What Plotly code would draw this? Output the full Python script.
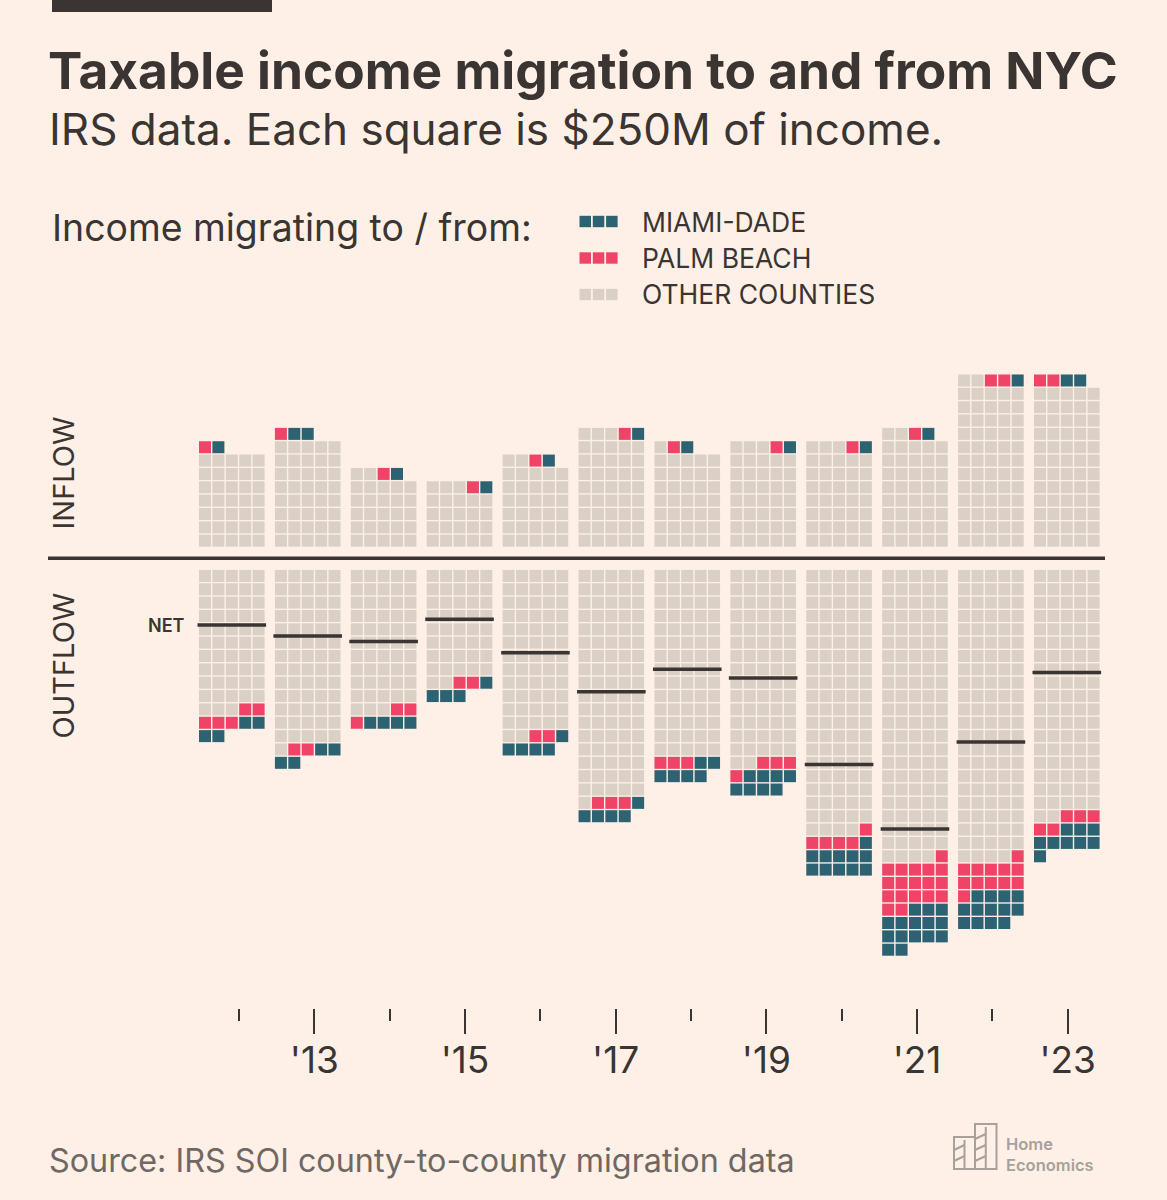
import plotly.graph_objects as go

# ---------------- data (squares; each square = $250M) ----------------
years = list(range(2012, 2024))
tick_labels = ["'12", "'13", "'14", "'15", "'16", "'17", "'18", "'19", "'20", "'21", "'22", "'23"]

in_other = [35, 40, 27, 23, 32, 43, 36, 38, 38, 42, 62, 60]
in_palm = [1, 1, 1, 1, 1, 1, 1, 1, 1, 1, 2, 2]
in_miami = [1, 2, 1, 1, 1, 1, 1, 1, 1, 1, 1, 2]

out_other = [53, 66, 53, 42, 62, 86, 70, 72, 99, 109, 109, 92]
out_palm = [5, 2, 3, 2, 2, 3, 3, 4, 5, 18, 12, 5]
out_miami = [4, 4, 4, 4, 5, 5, 6, 8, 11, 15, 13, 9]

# net outflow in $B
net_billions = [6.25, 7.28, 7.8, 5.7, 8.84, 12.5, 10.4, 11.2, 19.3, 25.35, 17.2, 10.7]

legend_names = ["MIAMI-DADE", "PALM BEACH", "OTHER COUNTIES"]

# ---------------- style ----------------
W, H = 1167, 1200
BG = "#FEF0E6"
DARK = "#3A3532"
TEAL = "#2D6272"
PINK = "#EF4468"
GRAY = "#DAD0C6"
MUTED = "#6F6863"
LOGO = "#A8A09A"
FONT = "Inter"

PX_PER_YEAR = 75.909
X0_PX = 231.8          # pixel of first column centre
ROW_PX = 13.35         # vertical pitch
COL_PX = 13.4          # horizontal pitch
Y0_PX = 558.3          # centre line
GAP = 1.32             # first row centre offset (rows)
SQ = 12
PER_ROW = 5
SQ_VALUE_B = 0.25

dx = COL_PX / PX_PER_YEAR


def px(x):
    return x / W


def py(y):
    return 1 - y / H


def waffle(year, counts, direction):
    """Return dict colour->(xs, ys) filling rows of 5 from the centre line."""
    out = {}
    idx = 0
    for key, n in counts:
        xs, ys = [], []
        for _ in range(n):
            r, c = divmod(idx, PER_ROW)
            xs.append(year + (c - 2) * dx)
            ys.append(direction * (GAP + r))
            idx += 1
        out[key] = (xs, ys)
    return out


pts = {k: ([], []) for k in ("other", "palm", "miami")}
for i, yr in enumerate(years):
    for direction, cnts in (
        (1, [("other", in_other[i]), ("palm", in_palm[i]), ("miami", in_miami[i])]),
        (-1, [("other", out_other[i]), ("palm", out_palm[i]), ("miami", out_miami[i])]),
    ):
        res = waffle(yr, cnts, direction)
        for k, (xs, ys) in res.items():
            pts[k][0].extend(xs)
            pts[k][1].extend(ys)

fig = go.Figure()
for k, col in (("other", GRAY), ("palm", PINK), ("miami", TEAL)):
    fig.add_trace(go.Scatter(
        x=pts[k][0], y=pts[k][1], mode="markers",
        marker=dict(symbol="square", size=SQ, color=col, line=dict(width=0)),
        hoverinfo="skip", showlegend=False))

# net lines
half = (2 * dx) + (SQ / 2 + 1.5) / PX_PER_YEAR
nx, ny = [], []
for yr, nb in zip(years, net_billions):
    yv = -nb / (SQ_VALUE_B * PER_ROW)
    nx += [yr - half, yr + half, None]
    ny += [yv, yv, None]
fig.add_trace(go.Scatter(x=nx, y=ny, mode="lines",
                         line=dict(color=DARK, width=3.5),
                         hoverinfo="skip", showlegend=False))

# dummy trace for tick axis
fig.add_trace(go.Scatter(x=years, y=[None] * len(years), xaxis="x2", yaxis="y",
                         mode="markers", hoverinfo="skip", showlegend=False))

x_lo = years[0] - X0_PX / PX_PER_YEAR
x_hi = years[0] + (W - X0_PX) / PX_PER_YEAR
y_hi = Y0_PX / ROW_PX
y_lo = -(H - Y0_PX) / ROW_PX

TICK_PX_PER_YEAR = 75.34
T13_PX = 314.3
x2_lo = 2013 - T13_PX / TICK_PX_PER_YEAR
x2_hi = 2013 + (W - T13_PX) / TICK_PX_PER_YEAR

major = [y for y in years if y % 2 == 1]
minor = [y for y in years if y % 2 == 0]

fig.update_layout(
    width=W, height=H,
    margin=dict(l=0, r=0, t=0, b=0),
    paper_bgcolor=BG, plot_bgcolor=BG,
    font=dict(family=FONT, color=DARK),
    xaxis=dict(range=[x_lo, x_hi], visible=False, domain=[0, 1], fixedrange=True),
    yaxis=dict(range=[y_lo, y_hi], visible=False, domain=[0, 1], fixedrange=True),
    xaxis2=dict(
        overlaying="x", anchor="free", position=py(1008), side="bottom",
        range=[x2_lo, x2_hi], showgrid=False, zeroline=False, showline=False,
        tickmode="array", tickvals=major,
        ticktext=[tick_labels[years.index(y)] for y in major],
        ticks="outside", ticklen=25, tickwidth=2, tickcolor=DARK,
        ticklabelstandoff=-5,
        tickfont=dict(family=FONT, size=37, color=DARK),
        minor=dict(tickmode="array", tickvals=minor, ticks="outside",
                   ticklen=12, tickwidth=2, tickcolor=DARK, showgrid=False),
    ),
    showlegend=False,
)

shapes = []
# top bar
shapes.append(dict(type="rect", xref="paper", yref="paper",
                   x0=px(52), x1=px(272), y0=py(12), y1=py(-5),
                   fillcolor=DARK, line=dict(width=0)))
# centre divider
shapes.append(dict(type="line", xref="paper", yref="y",
                   x0=px(48), x1=px(1105), y0=0, y1=0,
                   line=dict(color=DARK, width=3.5)))
# legend swatches
sw_rows = [(221.5, TEAL), (258, PINK), (294.5, GRAY)]
for cy, col in sw_rows:
    for j in range(3):
        x0 = 579.5 + j * 13.3
        shapes.append(dict(type="rect", xref="paper", yref="paper",
                           x0=px(x0), x1=px(x0 + 11.5), y0=py(cy - 5.7), y1=py(cy + 5.7),
                           fillcolor=col, line=dict(width=0)))
# logo buildings
logo_paths = [
    (954, 1137, 975, 1169),
    (975, 1124, 996.5, 1169),
]
for x0, y0, x1, y1 in logo_paths:
    shapes.append(dict(type="rect", xref="paper", yref="paper",
                       x0=px(x0), x1=px(x1), y0=py(y1), y1=py(y0),
                       line=dict(color=LOGO, width=2), fillcolor="rgba(0,0,0,0)"))
    xm = (x0 + x1) / 2
    shapes.append(dict(type="line", xref="paper", yref="paper",
                       x0=px(xm), x1=px(xm), y0=py(y1), y1=py(y0 + 3),
                       line=dict(color=LOGO, width=2)))
    yy = y1 - 8
    while yy > y0 + 6:
        shapes.append(dict(type="line", xref="paper", yref="paper",
                           x0=px(x0), x1=px(xm), y0=py(yy), y1=py(yy - 5),
                           line=dict(color=LOGO, width=2)))
        yy -= 11
fig.update_layout(shapes=shapes)

ann = []


def text(x, y, s, size, color=DARK, weight=400, xanchor="left", angle=0, align="left"):
    ann.append(dict(x=px(x), y=py(y), xref="paper", yref="paper", text=s,
                    showarrow=False, xanchor=xanchor, yanchor="middle",
                    textangle=angle, align=align,
                    font=dict(family=FONT, size=size, color=color, weight=weight)))


text(46, 70, "Taxable income migration to and from NYC", 51.4, weight=700)
text(47, 129, "IRS data. Each square is $250M of income.", 44)
text(50, 228, "Income migrating to / from:", 37.4)
for (cy, _), name in zip(sw_rows, legend_names):
    text(640, cy, name, 26.5)
text(62.5, 473, "INFLOW", 29, xanchor="center", angle=-90)
text(62.5, 666, "OUTFLOW", 29, xanchor="center", angle=-90)
text(187, 625, "NET", 18, weight=600, xanchor="right")
text(47, 1160, "Source: IRS SOI county-to-county migration data", 32.3, color=MUTED)
text(1004, 1154, "Home<br>Economics", 16.5, color=LOGO, weight=600)
fig.update_layout(annotations=ann)

fig.write_html("out.html")
